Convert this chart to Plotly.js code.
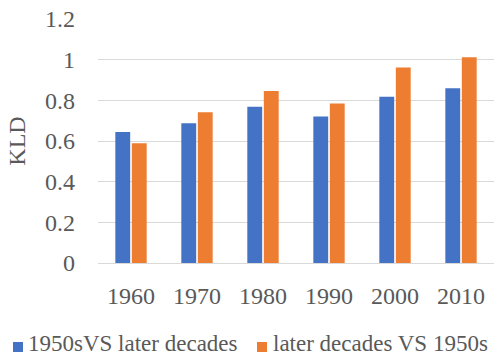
<!DOCTYPE html>
<html>
<head>
<meta charset="utf-8">
<script src="https://cdn.plot.ly/plotly-3.0.1.min.js"></script>
<style>html,body{margin:0;padding:0;background:#fff;}#chart{width:494px;height:358px;}</style>
</head>
<body>
<div id="chart"></div>
<script>
const categories = ["1960", "1970", "1980", "1990", "2000", "2010"];
const series1Name = "1950sVS later decades";
const series1Values = [0.644, 0.687, 0.769, 0.721, 0.818, 0.859];
const series2Name = "later decades VS 1950s";
const series2Values = [0.589, 0.741, 0.846, 0.784, 0.962, 1.012];
const yTickValues = [0, 0.2, 0.4, 0.6, 0.8, 1, 1.2];
const yTickLabels = ["0", "0.2", "0.4", "0.6", "0.8", "1", "1.2"];
const seriesColors = ['#4472C4', '#ED7D31'];

const fontFamily = '"Liberation Serif", "Times New Roman", serif';
const textColor = '#595959';

const W = 494, H = 358;
const M = {l: 98, r: 0, t: 19, b: 95};
const pw = W - M.l - M.r, ph = H - M.t - M.b;
const px2x = p => (p - M.l) / pw;
const px2y = p => (H - M.b - p) / ph;

const data = [
  {type: 'bar', name: series1Name, x: categories, y: series1Values, marker: {color: seriesColors[0]}, showlegend: false},
  {type: 'bar', name: series2Name, x: categories, y: series2Values, marker: {color: seriesColors[1]}, showlegend: false}
];

// manual legend (square + text), positioned like the reference
const legendItems = [
  {name: series1Name, color: seriesColors[0], sq: 13, tx: 27},
  {name: series2Name, color: seriesColors[1], sq: 257, tx: 272}
];
const legendY = 344, sqSize = 10;
const shapes = legendItems.map(it => ({
  type: 'rect', xref: 'paper', yref: 'paper',
  x0: px2x(it.sq), x1: px2x(it.sq + sqSize),
  y0: px2y(legendY + 3 - sqSize / 2), y1: px2y(legendY + 3 + sqSize / 2),
  fillcolor: it.color, line: {width: 0}
}));
const annotations = legendItems.map(it => ({
  text: it.name, xref: 'paper', yref: 'paper',
  x: px2x(it.tx), y: px2y(legendY), xanchor: 'left', yanchor: 'middle',
  showarrow: false, borderpad: 0, font: {family: fontFamily, size: 23, color: textColor}
}));

const layout = {
  width: W, height: H,
  margin: M,
  paper_bgcolor: '#fff', plot_bgcolor: '#fff',
  barmode: 'group', bargap: 0.5, bargroupgap: 0.1,
  font: {family: fontFamily, color: textColor, size: 24},
  xaxis: {
    type: 'category', range: [-0.5, 5.5], showgrid: false, showline: false,
    ticks: '', ticklabelstandoff: 16, tickfont: {family: fontFamily, size: 24, color: textColor}
  },
  yaxis: {
    range: [0, 1.2], tickvals: yTickValues, ticktext: yTickLabels,
    showgrid: true, gridcolor: '#d9d9d9', gridwidth: 1,
    zeroline: true, zerolinecolor: '#d9d9d9', zerolinewidth: 1,
    ticks: '', ticklabelstandoff: 22, tickfont: {family: fontFamily, size: 24, color: textColor},
    title: {text: 'KLD', font: {family: fontFamily, size: 24, color: textColor}, standoff: 12}
  },
  showlegend: false,
  shapes: shapes,
  annotations: annotations
};

Plotly.newPlot('chart', data, layout, {displayModeBar: false, staticPlot: true});
</script>
</body>
</html>
